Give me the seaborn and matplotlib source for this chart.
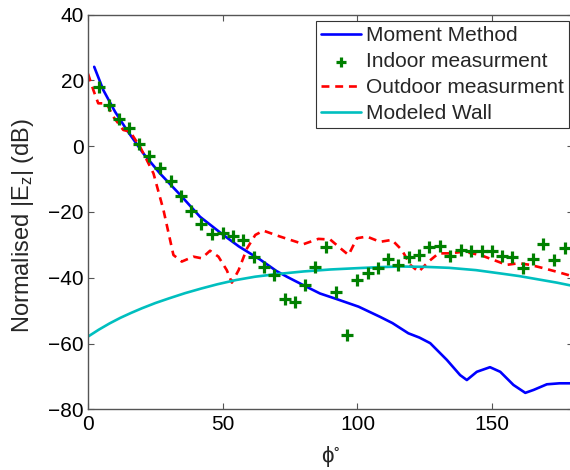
import numpy as np
import matplotlib
matplotlib.use("Agg")
import matplotlib.pyplot as plt
import seaborn as sns

# Moment Method (solid blue)
mm_phi = [2.3, 5.7, 10.0, 14.4, 20.5, 26.7, 34.2, 41.6, 50.2, 56.0, 63.9, 70.0, 73.8,
          80.0, 86.1, 92.3, 100.4, 108.4, 113.0, 118.9, 123.0, 127.0, 133.2, 138.1,
          140.6, 144.3, 149.2, 153.0, 157.9, 162.3, 165.4, 170.3, 175.0, 180.0]
mm_ez = [24.1, 17.0, 10.5, 4.9, -2.2, -8.3, -14.8, -21.5, -27.0, -30.5, -34.5, -38.0, -39.7,
         -42.3, -44.8, -46.5, -48.8, -51.9, -53.8, -56.9, -58.2, -59.9, -65.0, -69.6,
         -71.1, -68.6, -67.2, -68.6, -72.6, -75.0, -74.1, -72.4, -72.1, -72.1]

# Indoor measurement (green +)
in_phi = [4.1, 7.9, 11.6, 15.3, 19.1, 22.8, 26.8, 30.7, 34.5, 38.2, 42.1, 45.9, 50.0,
          53.9, 57.7, 61.5, 65.4, 69.2, 73.2, 76.8, 80.7, 84.4, 88.4, 92.1, 96.1, 99.9,
          103.8, 107.8, 111.5, 115.2, 119.1, 122.9, 126.7, 130.5, 134.5, 138.3, 142.3,
          146.2, 149.9, 153.6, 157.3, 161.4, 165.2, 169.0, 173.0, 176.9]
in_ez = [17.9, 12.5, 8.2, 5.6, 0.6, -3.1, -6.6, -10.5, -15.2, -19.8, -23.7, -26.8, -26.4,
         -27.2, -28.5, -33.6, -36.7, -39.3, -46.4, -47.4, -42.2, -36.6, -30.7, -44.2, -57.4,
         -40.6, -38.5, -37.1, -34.4, -36.1, -33.7, -33.1, -30.6, -30.5, -33.3, -31.6, -31.8,
         -31.8, -31.8, -33.5, -33.7, -37.1, -34.2, -29.8, -34.5, -31.0]

# Outdoor measurement (dashed red)
out_phi = [0.0, 2.0, 3.8, 6.9, 9.4, 13.1, 15.6, 19.3, 21.8, 24.3, 28.0, 31.7, 34.8, 39.1,
           42.2, 45.3, 48.4, 51.5, 53.4, 55.9, 59.0, 62.1, 65.1, 71.3, 80.0, 85.5, 89.9,
           93.6, 96.7, 99.8, 103.5, 108.4, 112.8, 116.5, 119.6, 122.7, 126.4, 130.1, 134.4,
           139.4, 145.6, 150.5, 155.4, 159.8, 164.1, 169.0, 174.0, 178.3, 180.0]
out_ez = [22.0, 17.0, 13.0, 13.0, 8.9, 4.9, 4.4, -0.2, -4.2, -8.3, -19.4, -33.1, -35.1, -33.6,
          -34.1, -31.8, -33.6, -37.7, -41.5, -37.7, -31.1, -27.0, -25.7, -27.5, -29.8, -28.2,
          -28.4, -31.0, -33.1, -28.0, -27.5, -29.1, -28.5, -31.6, -36.1, -38.2, -35.1, -32.6,
          -32.6, -32.1, -33.1, -34.6, -36.1, -35.6, -36.1, -37.1, -38.2, -39.2, -39.7]

# Modeled wall (cyan)
wall_phi = [0, 4, 8, 12, 16, 20, 25, 30, 36, 42, 48, 55, 62, 70, 80, 90, 100, 108, 116,
            125, 134, 144, 153, 160, 167, 174, 180]
wall_ez = [-57.9, -55.8, -53.9, -52.2, -50.7, -49.3, -47.7, -46.3, -44.7, -43.3, -42.0,
           -40.7, -39.7, -38.9, -38.1, -37.5, -37.1, -36.8, -36.6, -36.7, -37.0, -37.7,
           -38.7, -39.5, -40.5, -41.5, -42.5]

sns.set_theme(style="ticks")
plt.rcParams["font.family"] = ["Liberation Sans", "DejaVu Sans"]
plt.rcParams["mathtext.fontset"] = "custom"
plt.rcParams["mathtext.rm"] = "Liberation Sans"
plt.rcParams["mathtext.it"] = "Liberation Sans:italic"

fig = plt.figure(figsize=(5.7, 4.7), dpi=100)
ax = fig.add_axes([88 / 570, 1 - 409.3 / 470, 485 / 570, 394.8 / 470])

sns.lineplot(x=mm_phi, y=mm_ez, ax=ax, color=(0, 0, 1), linewidth=1.9,
             sort=False, estimator=None, label="Moment Method")
sns.scatterplot(x=in_phi, y=in_ez, ax=ax, marker="+", color=(0, 0.5, 0), s=85,
                linewidth=2.3, label="Indoor measurment", zorder=3)
sns.lineplot(x=out_phi, y=out_ez, ax=ax, color=(1, 0, 0), linewidth=1.9,
             linestyle=(0, (3, 2.2)), sort=False, estimator=None, label="Outdoor measurment")
sns.lineplot(x=wall_phi, y=wall_ez, ax=ax, color=(0, 0.75, 0.75), linewidth=1.9,
             sort=False, estimator=None, label="Modeled Wall")

ax.set_xlim(0, 180)
ax.set_ylim(-80, 40)
ax.set_xticks([0, 50, 100, 150])
ax.set_yticks([-80, -60, -40, -20, 0, 20, 40])
ax.tick_params(direction="in", length=4, width=0.8, top=True, right=True,
               labelsize=15, colors="#555555", labelcolor="black")
ax.tick_params(axis="x", pad=4)
ax.tick_params(axis="y", pad=3)
for s in ax.spines.values():
    s.set_color("#555555")
    s.set_linewidth(1.0)

ax.set_xlabel(r"$\mathregular{\phi^{\circ}}$", fontsize=16, labelpad=7)
ax.set_ylabel(r"Normalised |E$_\mathregular{z}$| (dB)", fontsize=17)
ax.yaxis.set_label_coords(-0.108, 0.465)

leg = ax.legend(loc="upper right", bbox_to_anchor=(569 / 570, 1 - 21 / 470),
                bbox_transform=fig.transFigure, fontsize=15, frameon=True,
                fancybox=False, shadow=False, handlelength=1.9, handletextpad=0.25,
                labelspacing=0.33, borderpad=0.25, borderaxespad=0, framealpha=1,
                markerscale=0.75)
leg.get_frame().set_edgecolor("#333333")
leg.get_frame().set_linewidth(0.8)

fig.savefig("out.png", dpi=100)
